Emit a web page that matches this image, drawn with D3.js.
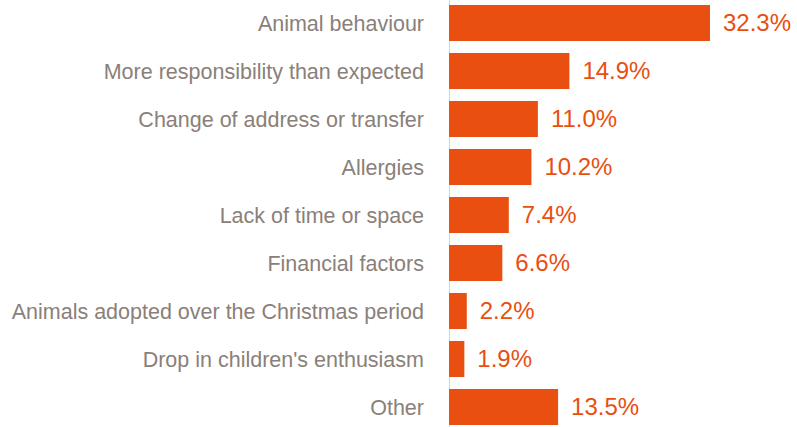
<!DOCTYPE html>
<html>
<head>
<meta charset="utf-8">
<script src="https://cdn.jsdelivr.net/npm/d3@7"></script>
<style>
  html, body { margin: 0; padding: 0; background: #fff; }
  svg { display: block; }
</style>
</head>
<body>
<svg id="chart" width="797" height="427"></svg>
<script>
// Reasons for returning adopted animals (share of responses, %)
const categories = [
  "Animal behaviour",
  "More responsibility than expected",
  "Change of address or transfer",
  "Allergies",
  "Lack of time or space",
  "Financial factors",
  "Animals adopted over the Christmas period",
  "Drop in children's enthusiasm",
  "Other"
];
const values = [32.3, 14.9, 11.0, 10.2, 7.4, 6.6, 2.2, 1.9, 13.5];

const svg = d3.select("#chart");
const margin = { top: 5, left: 449 };
const barColor = "#e84f10";
const labelColor = "#8a8079";
const font = "'Liberation Sans', Arial, Helvetica, sans-serif";

const x = d3.scaleLinear().domain([0, 32.3]).range([0, 261]);
const y = d3.scaleBand().domain(categories).range([0, 420]).paddingInner(0.25).paddingOuter(0);

const g = svg.append("g").attr("transform", `translate(${margin.left},${margin.top})`);

// baseline axis
g.append("line")
  .attr("x1", 0.5).attr("x2", 0.5)
  .attr("y1", -5).attr("y2", 427)
  .attr("stroke", "#d9d4d0").attr("stroke-width", 1);

const data = categories.map((c, i) => ({ c, v: values[i] }));

g.selectAll("rect.bar").data(data).join("rect")
  .attr("class", "bar")
  .attr("x", 0)
  .attr("y", d => y(d.c))
  .attr("width", d => x(d.v))
  .attr("height", y.bandwidth())
  .attr("fill", barColor);

g.selectAll("text.value").data(data).join("text")
  .attr("class", "value")
  .attr("x", d => x(d.v) + 13)
  .attr("y", d => y(d.c) + y.bandwidth() / 2)
  .attr("dy", "0.35em")
  .attr("fill", barColor)
  .style("font-family", font)
  .style("font-size", "24px")
  .text(d => d.v.toFixed(1) + "%");

g.selectAll("text.cat").data(data).join("text")
  .attr("class", "cat")
  .attr("x", -25)
  .attr("y", d => y(d.c) + y.bandwidth() / 2)
  .attr("dy", "0.35em")
  .attr("text-anchor", "end")
  .attr("fill", labelColor)
  .style("font-family", font)
  .style("font-size", "21.5px")
  .text(d => d.c);
</script>
</body>
</html>
